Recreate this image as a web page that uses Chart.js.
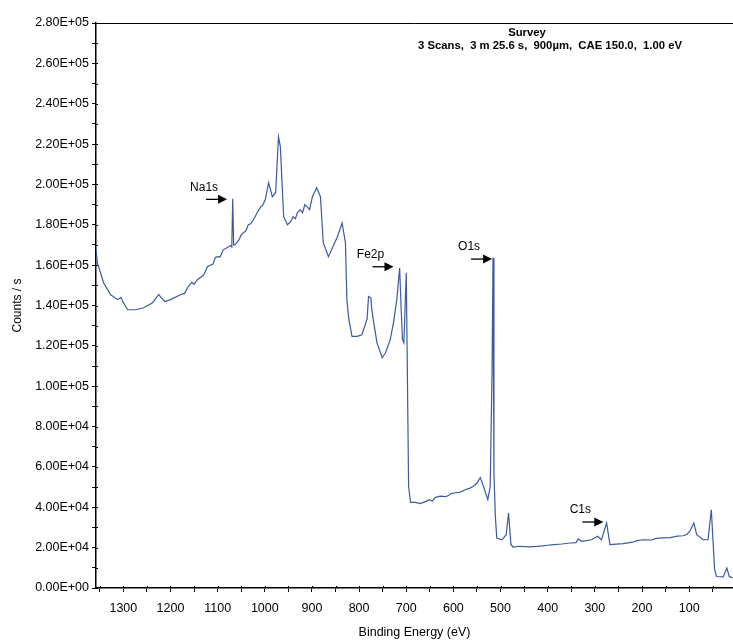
<!DOCTYPE html>
<html>
<head>
<meta charset="utf-8">
<script src="https://cdn.jsdelivr.net/npm/chart.js@4/dist/chart.umd.min.js"></script>
<style>
  html, body { margin: 0; padding: 0; background: #fff; }
  #wrap { width: 733px; height: 640px; }
</style>
</head>
<body>
<div id="wrap"><canvas id="survey"></canvas></div>
<script>
// binding energy (eV) and counts
const energies = [1358, 1355, 1342, 1327, 1312, 1305, 1301, 1295, 1291, 1274, 1257, 1238, 1225, 1221, 1212, 1200, 1179, 1170,
  1164, 1155, 1150, 1143, 1130, 1125, 1122, 1110, 1105, 1100, 1095, 1088, 1073, 1070, 1068, 1066, 1063, 1055, 1050, 1045, 1040,
  1035, 1030, 1024, 1015, 1009, 1005, 999, 992, 984, 977, 971, 967, 960, 952, 945, 940, 935, 931, 925, 920, 915, 910, 905, 899,
  890, 882, 876, 865, 846, 836, 829, 826, 822, 815, 804, 794, 783, 780, 775, 773, 769, 762, 751, 744, 734, 727, 720, 714, 711,
  708, 705, 700, 698, 695, 691, 681, 670, 660, 650, 645, 639, 628, 617, 610, 605, 596, 585, 575, 565, 560, 554, 550, 543, 536,
  527, 522, 518, 516, 514, 511, 508, 497, 488, 483, 478, 473, 460, 440, 423, 410, 400, 388, 370, 353, 340, 335, 328, 307, 294,
  286, 275, 268, 240, 220, 210, 197, 180, 170, 155, 140, 125, 113, 105, 99, 90, 84, 70, 60, 53, 46, 42, 28, 20, 15, 8];
const counts = [167600, 161200, 151300, 145300, 142900, 144000, 141900, 139500, 137900, 137900, 138900, 141400, 145500, 144300,
  142000, 142900, 145300, 146000, 148800, 151500, 150500, 152800, 155000, 157500, 159200, 160500, 163800, 164200, 164000, 167600,
  169600, 169000, 192900, 170000, 170100, 172500, 175000, 176100, 177000, 180000, 180500, 182500, 186500, 188900, 189500, 192400,
  200900, 193900, 195900, 223600, 218700, 184000, 180000, 181500, 184000, 183000, 185900, 187500, 186000, 190000, 188900, 187500,
  193900, 198400, 193900, 171100, 164200, 174100, 180900, 171100, 143300, 133400, 124700, 124700, 125500, 133400, 144500, 143800,
  137900, 131500, 121500, 114100, 116600, 123100, 131500, 142900, 158700, 139400, 123100, 121500, 156200, 114700, 50300, 42400,
  42400, 41800, 42800, 43800, 43000, 44800, 45500, 45300, 45800, 46800, 47200, 47500, 48700, 49500, 50000, 51200, 52000, 54700,
  50200, 43800, 50200, 106700, 163700, 57100, 35300, 24800, 23900, 26400, 37200, 21500, 20300, 20700, 20400, 20600, 20900, 21200,
  21500, 21800, 22300, 22500, 24300, 23100, 23900, 25600, 23900, 32200, 21500, 22000, 22700, 23500, 23900, 23800, 24600, 24800,
  25000, 25700, 25900, 26500, 28000, 32200, 26400, 23900, 23900, 38800, 9100, 5700, 5500, 9900, 5700, 5000];

// axis ticks: labelled every 100 eV / 2E4 counts, minor marks in between
const xTicks = [50, 100, 150, 200, 250, 300, 350, 400, 450, 500, 550, 600, 650, 700, 750, 800, 850, 900, 950, 1000,
  1050, 1100, 1150, 1200, 1250, 1300, 1350];
const xLabelled = [100, 200, 300, 400, 500, 600, 700, 800, 900, 1000, 1100, 1200, 1300];

// peak labels: arrow tip at (eV, counts)
const peakNames = ['Na1s', 'Fe2p', 'O1s', 'C1s'];
const peakEnergies = [1080, 727, 518, 282];
const peakCounts = [192600, 159200, 163000, 32700];

const titleText = 'Survey';
const subtitleText = '3 Scans,  3 m 25.6 s,  900\u00b5m,  CAE 150.0,  1.00 eV';

const font = '"Liberation Sans", Arial, sans-serif';

function sciLabel(v) {
  if (v === 0) return '0.00E+00';
  const e = Math.floor(Math.log10(v) + 1e-9);
  const m = v / Math.pow(10, e);
  return m.toFixed(2) + 'E+' + String(e).padStart(2, '0');
}

const decorations = {
  id: 'decorations',
  afterDraw(chart) {
    const ctx = chart.ctx;
    const area = chart.chartArea;
    const xs = chart.scales.x, ys = chart.scales.y;
    ctx.save();
    ctx.strokeStyle = '#000';
    ctx.lineWidth = 1;
    // top frame line
    ctx.beginPath();
    ctx.moveTo(area.left, area.top + 0.5);
    ctx.lineTo(area.right, area.top + 0.5);
    // tick marks poke a little into the plot too
    xs.ticks.forEach(t => {
      const px = Math.round(xs.getPixelForValue(t.value)) + 0.5;
      ctx.moveTo(px, area.bottom);
      ctx.lineTo(px, area.bottom - 2);
    });
    ys.ticks.forEach(t => {
      const py = Math.round(ys.getPixelForValue(t.value)) + 0.5;
      ctx.moveTo(area.left, py);
      ctx.lineTo(area.left + 2, py);
    });
    ctx.stroke();

    // title block
    ctx.fillStyle = '#000';
    ctx.textAlign = 'center';
    ctx.textBaseline = 'middle';
    ctx.font = 'bold 11.3px ' + font;
    ctx.fillText(titleText, 527, 33);
    ctx.fillText(subtitleText, 550, 46);

    // peak arrows
    ctx.font = '12px ' + font;
    peakNames.forEach((name, i) => {
      const tx = xs.getPixelForValue(peakEnergies[i]);
      const ty = ys.getPixelForValue(peakCounts[i]);
      ctx.lineWidth = 1.3;
      ctx.beginPath();
      ctx.moveTo(tx - 21, ty);
      ctx.lineTo(tx - 7, ty);
      ctx.stroke();
      ctx.beginPath();
      ctx.moveTo(tx, ty);
      ctx.lineTo(tx - 9, ty - 4.5);
      ctx.lineTo(tx - 9, ty + 4.5);
      ctx.closePath();
      ctx.fill();
      ctx.fillText(name, tx - 23, ty - 12);
    });
    ctx.restore();
  }
};

new Chart(document.getElementById('survey').getContext('2d'), {
  type: 'line',
  data: {
    datasets: [{
      data: energies.map((e, i) => ({ x: e, y: counts[i] })),
      borderColor: '#3d5a9e',
      borderWidth: 1.2,
      pointRadius: 0,
      tension: 0,
      fill: false
    }]
  },
  options: {
    responsive: true,
    maintainAspectRatio: false,
    animation: false,
    layout: { padding: { left: 10, top: 23, right: 0, bottom: 0 } },
    plugins: { legend: { display: false }, tooltip: { enabled: false } },
    scales: {
      x: {
        type: 'linear',
        reverse: true,
        min: 7,
        max: 1358,
        afterBuildTicks(s) { s.ticks = xTicks.map(v => ({ value: v })); },
        afterFit(s) { s.height = 52; s.paddingLeft = 0; s.paddingRight = 0; },
        border: { display: true, color: '#000', width: 1.5 },
        grid: { display: true, drawOnChartArea: false, color: '#000', tickLength: 4 },
        ticks: {
          autoSkip: false,
          maxRotation: 0,
          padding: 9,
          color: '#000',
          font: { family: font, size: 12.5 },
          callback: v => (xLabelled.includes(v) ? String(v) : '')
        },
        title: {
          display: true,
          text: 'Binding Energy (eV)',
          color: '#000',
          font: { family: font, size: 12.5 },
          padding: { top: 2, bottom: 0 }
        }
      },
      y: {
        min: 0,
        max: 280000,
        afterFit(s) { s.width = 86; },
        border: { display: true, color: '#000', width: 1.5 },
        grid: { display: true, drawOnChartArea: false, color: '#000', tickLength: 4 },
        ticks: {
          stepSize: 10000,
          autoSkip: false,
          padding: 3,
          color: '#000',
          font: { family: font, size: 12.5 },
          callback: v => (v % 20000 === 0 ? sciLabel(v) : '')
        },
        title: {
          display: true,
          text: 'Counts / s',
          color: '#000',
          font: { family: font, size: 12 },
          padding: { top: 0, bottom: 0 }
        }
      }
    }
  },
  plugins: [decorations]
});
</script>
</body>
</html>
